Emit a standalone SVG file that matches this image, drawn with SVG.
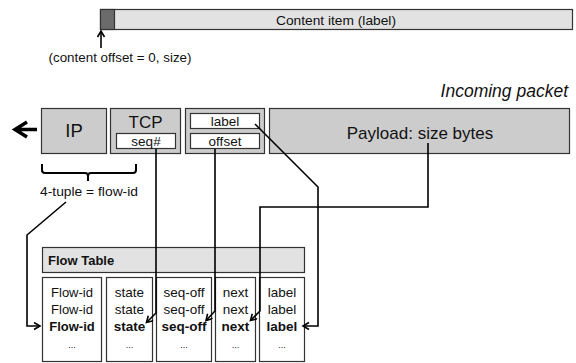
<svg xmlns="http://www.w3.org/2000/svg" width="576" height="363" viewBox="0 0 576 363">
  <style>
    text { font-family: "Liberation Sans", Arial, sans-serif; fill: #111; }
    .box { fill: #cccccc; stroke: #333; stroke-width: 1.2; }
    .inner { fill: #fff; stroke: #333; stroke-width: 1.2; }
    .light { fill: #e2e2e2; stroke: #333; stroke-width: 1.2; }
    .col { fill: #fff; stroke: #333; stroke-width: 1.2; }
    .conn { fill: none; stroke: #000; stroke-width: 1.6; stroke-linejoin: miter; }
    .s12 { font-size: 13px; }
    .s13 { font-size: 13.5px; }
    .mid { text-anchor: middle; }
    .b { font-weight: bold; }
  </style>
  <defs>
    <marker id="arr" markerUnits="userSpaceOnUse" markerWidth="10" markerHeight="10" refX="7" refY="4" orient="auto">
      <path d="M1,0.5 L7,4 L1,7.5" fill="none" stroke="#000" stroke-width="1.6"/>
    </marker>
  </defs>

  <!-- content item bar -->
  <g id="content-item">
    <rect x="100.5" y="9.5" width="472" height="20" class="light"/>
    <rect x="100.5" y="9.5" width="14" height="20" fill="#6b6b6b" stroke="#333" stroke-width="1.2"/>
    <text x="336" y="24.5" font-size="13.5" class="mid" textLength="120" lengthAdjust="spacingAndGlyphs">Content item (label)</text>
  </g>
  <g id="content-offset">
    <text x="120" y="62" class="s13 mid" textLength="143" lengthAdjust="spacingAndGlyphs">(content offset = 0, size)</text>
  </g>

  <!-- incoming packet -->
  <g id="packet-title">
    <text x="568" y="97" font-size="17.5" font-style="italic" text-anchor="end">Incoming packet</text>
  </g>
  <g id="ip">
    <rect x="41.5" y="108.5" width="65" height="45" class="box"/>
    <text x="74" y="137" font-size="18.5" class="mid">IP</text>
  </g>
  <g id="tcp">
    <rect x="110.5" y="108.5" width="70" height="45" class="box"/>
    <text x="145.5" y="127.5" font-size="17" class="mid">TCP</text>
    <rect x="116.5" y="133.5" width="59" height="15" class="inner"/>
    <text x="146" y="145.5" class="s13 mid">seq#</text>
  </g>
  <g id="label-offset">
    <rect x="185.5" y="108.5" width="79" height="45" class="box"/>
    <rect x="190.5" y="113.5" width="69" height="15" class="inner"/>
    <text x="225" y="125.5" class="s13 mid">label</text>
    <rect x="190.5" y="133.5" width="69" height="15" class="inner"/>
    <text x="225" y="145.5" class="s13 mid">offset</text>
  </g>
  <g id="payload">
    <rect x="269.5" y="108.5" width="300" height="45" class="box"/>
    <text x="420" y="139" font-size="17" class="mid">Payload: size bytes</text>
  </g>
  <g id="left-arrow">
    <path d="M37,129.5 H16 M27,122 L15,129.5 L27,137" fill="none" stroke="#000" stroke-width="3.5" stroke-linejoin="miter"/>
  </g>

  <!-- flow-id brace -->
  <g id="flow-id-brace">
    <path d="M42,164 V170 Q42,173 45,173 H85 Q88,173 88,176 V181 M88,176 Q88,173 91,173 H133 Q136,173 136,170 V164" fill="none" stroke="#000" stroke-width="2"/>
    <text x="89" y="196" class="s13 mid" textLength="98" lengthAdjust="spacingAndGlyphs">4-tuple = flow-id</text>
  </g>

  <!-- flow table -->
  <g id="flow-table">
    <rect x="42.5" y="247.5" width="262" height="25" class="light"/>
    <text x="48" y="265" class="s12 b">Flow Table</text>
  </g>
  <g id="col-flow-id">
    <rect x="42.5" y="277.5" width="59" height="84" class="col"/>
    <text x="72" y="297" class="s12 mid">Flow-id</text>
    <text x="72" y="314" class="s12 mid">Flow-id</text>
    <text x="72" y="331" class="s12 mid b">Flow-id</text>
    <text x="72" y="348" font-size="9" class="mid">...</text>
  </g>
  <g id="col-state">
    <rect x="106.5" y="277.5" width="46" height="84" class="col"/>
    <text x="129.5" y="297" class="s13 mid">state</text>
    <text x="129.5" y="314" class="s13 mid">state</text>
    <text x="129.5" y="331" class="s13 mid b">state</text>
    <text x="129.5" y="348" font-size="9" class="mid">...</text>
  </g>
  <g id="col-seq-off">
    <rect x="156.5" y="277.5" width="55" height="84" class="col"/>
    <text x="184" y="297" class="s13 mid">seq-off</text>
    <text x="184" y="314" class="s13 mid">seq-off</text>
    <text x="184" y="331" class="s13 mid b">seq-off</text>
    <text x="184" y="348" font-size="9" class="mid">...</text>
  </g>
  <g id="col-next">
    <rect x="215.5" y="277.5" width="40" height="84" class="col"/>
    <text x="235.5" y="297" class="s13 mid">next</text>
    <text x="235.5" y="314" class="s13 mid">next</text>
    <text x="235.5" y="331" class="s13 mid b">next</text>
    <text x="235.5" y="348" font-size="9" class="mid">...</text>
  </g>
  <g id="col-label">
    <rect x="259.5" y="277.5" width="45" height="84" class="col"/>
    <text x="282" y="297" class="s13 mid">label</text>
    <text x="282" y="314" class="s13 mid">label</text>
    <text x="282" y="331" class="s13 mid b">label</text>
    <text x="282" y="348" font-size="9" class="mid">...</text>
  </g>

  <!-- connectors -->
  <g id="connectors">
    <path class="conn" d="M101,48 V31" marker-end="url(#arr)"/>
    <path class="conn" d="M66,202 L27,235 V326 H40" marker-end="url(#arr)"/>
    <path class="conn" d="M156,149 V313 L146.5,322.5" marker-end="url(#arr)"/>
    <path class="conn" d="M215,149 V311 L206,320.5" marker-end="url(#arr)"/>
    <path class="conn" d="M428,143 V207 H260 V311 L250.5,320.5" marker-end="url(#arr)"/>
    <path class="conn" d="M255,124 L318,187 V326 H303" marker-end="url(#arr)"/>
  </g>
</svg>
